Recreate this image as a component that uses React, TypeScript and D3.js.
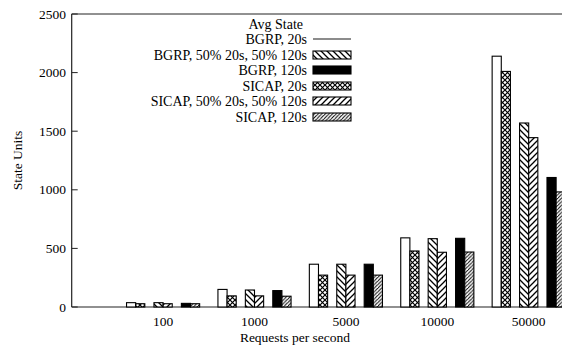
import React from "react";
import * as d3 from "d3";

const categories = ["100", "1000", "5000", "10000", "50000"];
const seriesNames = [
  "BGRP, 20s",
  "BGRP, 50% 20s, 50% 120s",
  "BGRP, 120s",
  "SICAP, 20s",
  "SICAP, 50% 20s, 50% 120s",
  "SICAP, 120s",
];
const bgrp20 = [37, 150, 365, 590, 2140];
const bgrp5050 = [37, 145, 365, 583, 1570];
const bgrp120 = [31, 140, 365, 586, 1105];
const sicap20 = [28, 95, 272, 478, 2010];
const sicap5050 = [28, 95, 272, 467, 1445];
const sicap120 = [28, 92, 272, 469, 982];
const yTicks = [0, 500, 1000, 1500, 2000, 2500];

const W = 562;
const H = 345;
const FONT = "'Liberation Serif', 'DejaVu Serif', serif";

const series = [
  { name: seriesNames[0], values: bgrp20, fill: "#fff", slot: 0, legend: "line" },
  { name: seriesNames[1], values: bgrp5050, fill: "url(#pBack)", slot: 3, legend: "box" },
  { name: seriesNames[2], values: bgrp120, fill: "#000", slot: 6, legend: "box" },
  { name: seriesNames[3], values: sicap20, fill: "url(#pCross)", slot: 1, legend: "box" },
  { name: seriesNames[4], values: sicap5050, fill: "url(#pFwd)", slot: 4, legend: "box" },
  { name: seriesNames[5], values: sicap120, fill: "url(#pFwdDense)", slot: 7, legend: "box" },
];

export default function App() {
  const x0 = 71.7;
  const step = 91.4;
  const x = d3.scaleLinear().domain([0, 6]).range([x0, x0 + 6 * step]);
  const y = d3.scaleLinear().domain([0, 2500]).range([307, 14]);
  const bw = 0.1;

  const legendX = 307;
  const legendRows = [39, 55, 70, 86, 101, 117];

  return (
    <svg
      width={W}
      height={H}
      style={{ position: "absolute", left: 0, top: 0, background: "#fff" }}
      fontFamily={FONT}
    >
      <defs>
        <pattern id="pBack" patternUnits="userSpaceOnUse" width={6} height={6}>
          <rect width={6} height={6} fill="#fff" />
          <path d="M-1,-1 L7,7 M-4,2 L1,7 M2,-4 L7,1" stroke="#000" strokeWidth={1.3} />
        </pattern>
        <pattern id="pFwd" patternUnits="userSpaceOnUse" width={6} height={6}>
          <rect width={6} height={6} fill="#fff" />
          <path d="M-1,7 L7,-1 M-4,4 L1,-1 M5,7 L10,2" stroke="#000" strokeWidth={1.3} />
        </pattern>
        <pattern id="pFwdDense" patternUnits="userSpaceOnUse" width={3.6} height={3.6}>
          <rect width={3.6} height={3.6} fill="#fff" />
          <path d="M-1,4.6 L4.6,-1 M-2,2 L2,-2 M2,5.6 L5.6,2" stroke="#000" strokeWidth={1} />
        </pattern>
        <pattern id="pCross" patternUnits="userSpaceOnUse" width={5} height={5}>
          <rect width={5} height={5} fill="#fff" />
          <path d="M-1,-1 L6,6 M-1,6 L6,-1" stroke="#000" strokeWidth={1.2} />
        </pattern>
      </defs>

      {/* frame */}
      <line x1={x0} x2={W} y1={y(2500)} y2={y(2500)} stroke="#222" strokeWidth={1} />
      <line x1={x0} x2={W} y1={y(0)} y2={y(0)} stroke="#222" strokeWidth={1.2} />
      <line x1={x0} x2={x0} y1={y(2500)} y2={y(0)} stroke="#222" strokeWidth={1.2} />

      {/* y ticks */}
      {yTicks.map((t) => (
        <g key={t}>
          <line x1={x0} x2={x0 + 6} y1={y(t)} y2={y(t)} stroke="#222" />
          <text x={66} y={y(t) + 4.5} textAnchor="end" fontSize={13.5}>
            {t}
          </text>
        </g>
      ))}

      {/* x labels */}
      {categories.map((c, i) => (
        <text key={c} x={x(i + 1)} y={326} textAnchor="middle" fontSize={13.5}>
          {c}
        </text>
      ))}

      {/* bars */}
      {series.map((s) =>
        s.values.map((v, i) => {
          const left = x(i + 1 - 0.4 + s.slot * bw);
          const right = x(i + 1 - 0.4 + (s.slot + 1) * bw);
          return (
            <rect
              key={s.name + i}
              x={left}
              y={y(v)}
              width={right - left}
              height={y(0) - y(v)}
              fill={s.fill}
              stroke="#000"
              strokeWidth={1.1}
            />
          );
        })
      )}

      {/* axis titles */}
      <text
        transform={`translate(22,${(y(0) + y(2500)) / 2}) rotate(-90)`}
        textAnchor="middle"
        fontSize={13.5}
      >
        State Units
      </text>
      <text x={295} y={342} textAnchor="middle" fontSize={13.5}>
        Requests per second
      </text>

      {/* legend */}
      <text x={legendX - 4} y={29} textAnchor="end" fontSize={14}>
        Avg State
      </text>
      {series.map((s, k) => (
        <g key={"lg" + k}>
          <text x={legendX} y={legendRows[k] + 4.5} textAnchor="end" fontSize={14}>
            {s.name}
          </text>
          {s.legend === "line" ? (
            <line
              x1={legendX + 6}
              x2={legendX + 44}
              y1={legendRows[k]}
              y2={legendRows[k]}
              stroke="#666"
              strokeWidth={1.5}
            />
          ) : (
            <rect
              x={legendX + 6}
              y={legendRows[k] - 4}
              width={38}
              height={8}
              fill={s.fill}
              stroke="#000"
              strokeWidth={1.1}
            />
          )}
        </g>
      ))}
    </svg>
  );
}
